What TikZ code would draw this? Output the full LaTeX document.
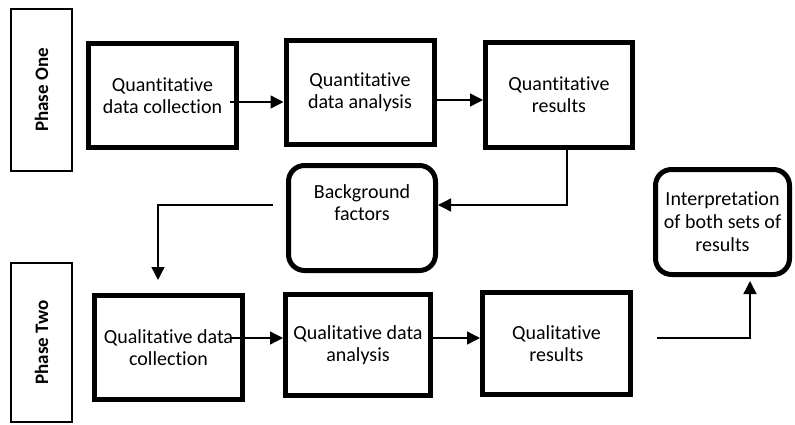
\documentclass[tikz,border=0pt]{standalone}
\usepackage{fontspec}
\setmainfont[Ligatures=NoCommon]{Carlito}
\usetikzlibrary{arrows.meta,calc}
\begin{document}
\begin{tikzpicture}[x=1pt,y=-1pt,
  stagebox/.style={draw,line width=5pt,minimum width=148pt,minimum height=104pt,
    inner sep=0pt,align=center,font=\fontsize{20}{22}\selectfont},
  roundbox/.style={stagebox,rounded corners=16pt},
  phasebox/.style={draw,line width=1.8pt,minimum width=61pt,inner sep=0pt},
  phasetext/.style={rotate=90,font=\bfseries\fontsize{19}{22}\selectfont},
  arr/.style={line width=1.4pt,-{Triangle[length=13pt,width=13pt]}}]
\useasboundingbox (0,0) rectangle (795,425);

% phase labels
\node[phasebox,minimum height=162pt] (p1) at (41.5,90) {};
\node[phasetext] (p1t) at (p1.center) {Phase One};
\node[phasebox,minimum height=159pt] (p2) at (41.5,342.5) {};
\node[phasetext] (p2t) at (p2.center) {Phase Two};

% phase one stages
\node[stagebox] (b1) at (162.5,96) {Quantitative\\data collection};
\node[stagebox] (b2) at (360,92.5) {Quantitative\\data analysis};
\node[stagebox,minimum width=147pt,minimum height=105pt] (b3) at (559,95) {Quantitative\\results};

% intermediate steps
\node[roundbox,minimum width=147pt,minimum height=105pt] (bg) at (362,218) {};
\node[font=\fontsize{20}{22}\selectfont,align=center] (bgt) at (362,203) {Background\\factors};
\node[roundbox,minimum width=134pt,minimum height=105pt,font=\fontsize{20}{23}\selectfont] (ip) at (722.5,222)
  {Interpretation\\of both sets of\\results};

% phase two stages
\node[stagebox] (b4) at (168.5,347.5) {Qualitative data\\collection};
\node[stagebox,minimum width=145pt,minimum height=101pt] (b5) at (358,345) {Qualitative data\\analysis};
\node[stagebox,minimum height=102pt] (b6) at (556.5,343.5) {Qualitative\\results};

% connectors
\draw[arr] ([xshift=-9pt,yshift=-6pt]b1.east) coordinate (s1) -- (s1 -| b2.west);
\draw[arr] ([yshift=-7.5pt]b2.east) coordinate (s2) -- (s2 -| b3.west);

\coordinate (k1) at (567,205);
\draw[arr] (b3.south -| k1) -- (k1) -- (k1 -| bg.east);

\coordinate (k2) at (273,205);
\coordinate (k4) at (158,280);
\draw[arr] (k2) -| (k4);

\draw[arr] ([xshift=-15pt,yshift=9.5pt]b4.east) coordinate (s3) -- (s3 -| b5.west);
\draw[arr] ([yshift=7pt]b5.east) coordinate (s4) -- (s4 -| b6.west);

\coordinate (k5) at (657,338);
\coordinate (k6) at (750,281);
\draw[arr] (k5) -| (k6);
\end{tikzpicture}
\end{document}
